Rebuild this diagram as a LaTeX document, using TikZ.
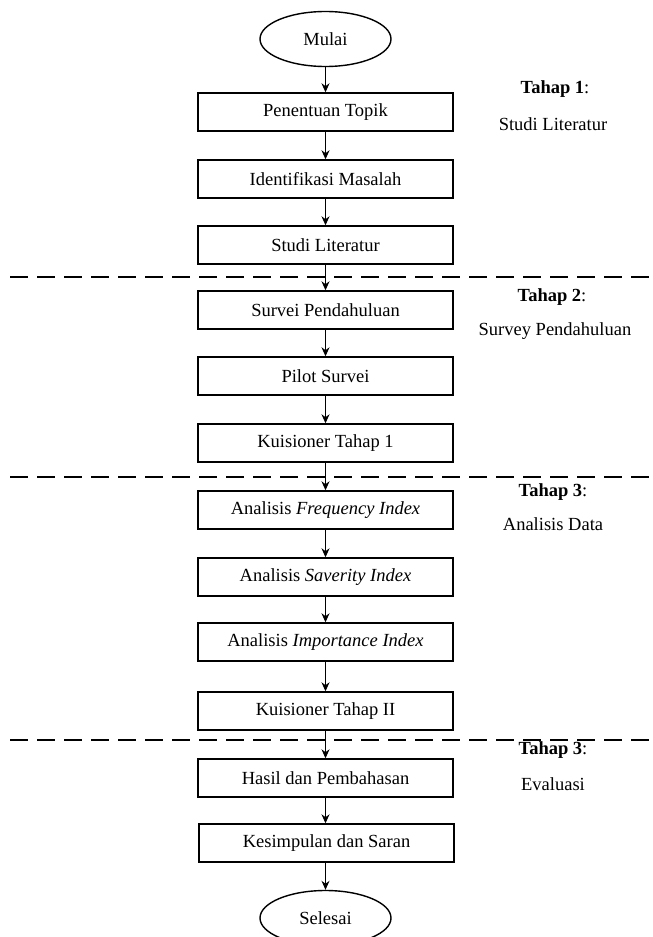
\documentclass[tikz,border=0pt]{standalone}
\usepackage{fontspec}
\setmainfont{Liberation Serif}
\usetikzlibrary{shapes.geometric,arrows.meta}
\begin{document}
\begin{tikzpicture}[x=1pt,y=-1pt,
  font=\fontsize{18.5}{22}\selectfont,
  stepbox/.style={draw,line width=1.4pt,minimum width=255pt,minimum height=38pt,inner sep=0pt},
  term/.style={draw,ellipse,line width=1.4pt,minimum width=131pt,minimum height=55pt,inner sep=0pt},
  flow/.style={line width=1.3pt,-{Stealth[length=9pt,width=8pt]}},
  sep/.style={line width=1.4pt,dash pattern=on 18pt off 9pt},
  lbl/.style={inner sep=0pt}]
\useasboundingbox (0,0) rectangle (653,937);
\node[term] (mulai) at (325.5,39) {Mulai};
\node[stepbox] (a1) at (325.5,112) {Penentuan Topik};
\node[stepbox] (a2) at (325.5,179) {Identifikasi Masalah};
\node[stepbox] (a3) at (325.5,245) {Studi Literatur};
\node[stepbox] (b1) at (325.5,310) {Survei Pendahuluan};
\node[stepbox] (b2) at (325.5,376) {Pilot Survei};
\node[stepbox] (b3) at (325.5,443) {Kuisioner Tahap 1};
\node[stepbox] (c1) at (325.5,510) {Analisis \textit{Frequency Index}};
\node[stepbox] (c2) at (325.5,577) {Analisis \textit{Saverity Index}};
\node[stepbox] (c3) at (325.5,642) {Analisis \textit{Importance Index}};
\node[stepbox] (c4) at (325.5,711) {Kuisioner Tahap II};
\node[stepbox] (d1) at (325.5,778) {Hasil dan Pembahasan};
\node[stepbox] (d2) at (326.5,843) {Kesimpulan dan Saran};
\node[term] (selesai) at (325.5,918) {Selesai};
\draw[flow] (mulai) -- (a1);
\draw[flow] (a1) -- (a2);
\draw[flow] (a2) -- (a3);
\draw[flow] (a3) -- (b1);
\draw[flow] (b1) -- (b2);
\draw[flow] (b2) -- (b3);
\draw[flow] (b3) -- (c1);
\draw[flow] (c1) -- (c2);
\draw[flow] (c2) -- (c3);
\draw[flow] (c3) -- (c4);
\draw[flow] (c4) -- (d1);
\draw[flow] (d1) -- (d1 |- d2.north);
\draw[flow] (d2.south -| selesai) -- (selesai);
\coordinate (s1l) at (10,277); \coordinate (s1r) at (653,277);
\coordinate (s2l) at (10,477); \coordinate (s2r) at (653,477);
\coordinate (s3l) at (10,740); \coordinate (s3r) at (653,740);
\draw[sep] (s1l) -- (s1r);
\draw[sep] (s2l) -- (s2r);
\draw[sep] (s3l) -- (s3r);
\node[lbl] (t1) at (555,89) {\textbf{Tahap 1}:};
\node[lbl] (t1b) at (553,124) {Studi Literatur};
\node[lbl] (t2) at (552,297) {\textbf{Tahap 2}:};
\node[lbl] (t2b) at (555,331) {Survey Pendahuluan};
\node[lbl] (t3) at (553,492) {\textbf{Tahap 3}:};
\node[lbl] (t3b) at (553,524) {Analisis Data};
\node[lbl] (t4) at (553,750) {\textbf{Tahap 3}:};
\node[lbl] (t4b) at (553,784) {Evaluasi};
\end{tikzpicture}
\end{document}
